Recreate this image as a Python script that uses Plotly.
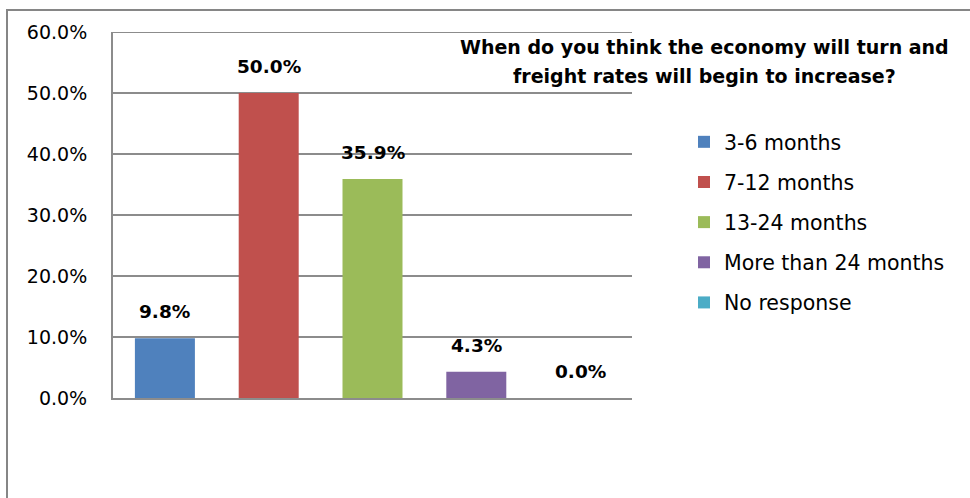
import plotly.graph_objects as go

# Survey answers and their shares
categories = ["3-6 months", "7-12 months", "13-24 months", "More than 24 months", "No response"]
shares = [0.098, 0.500, 0.359, 0.043, 0.000]
colors = ["#4F81BD", "#C0504D", "#9BBB59", "#8064A2", "#4BACC6"]
y_ticks = [0.0, 0.1, 0.2, 0.3, 0.4, 0.5, 0.6]
title_lines = ["When do you think the economy will turn and",
               "freight rates will begin to increase?"]

W, H = 970, 498
L, R, T, B = 113, 338, 32, 100
plot_w = W - L - R
plot_h = H - T - B


def px_x(x):
    return (x - L) / plot_w


def px_y(y):
    return (H - B - y) / plot_h


GRID = "#8c8c8c"
FONT = "DejaVu Sans"

fig = go.Figure()
for i, (cat, val, col) in enumerate(zip(categories, shares, colors)):
    fig.add_trace(go.Bar(
        x=[cat], y=[val], name=cat,
        marker=dict(color=col, line=dict(width=0)),
        width=0.578,
        legendgroup=f"g{i}",
        hoverinfo="skip",
    ))
    fig.add_annotation(
        x=cat, y=val, xref="x", yref="y",
        text=f"<b>{val * 100:.1f}%</b>",
        showarrow=False, yanchor="bottom", yshift=14,
        font=dict(family=FONT, size=18.5, color="#000000"),
    )

for k, line in enumerate(title_lines):
    fig.add_annotation(
        x=px_x(704), y=px_y(46.5 + 30 * k), xref="paper", yref="paper",
        text=f"<b>{line}</b>", showarrow=False,
        xanchor="center", yanchor="middle",
        font=dict(family=FONT, size=19, color="#000000"),
    )

# Top gridline sits on the range edge, so draw it explicitly
fig.add_shape(
    type="line", xref="paper", yref="y",
    x0=0, x1=1, y0=y_ticks[-1], y1=y_ticks[-1],
    line=dict(color=GRID, width=2), layer="below",
)

# Outer chart frame
fig.add_shape(
    type="rect", xref="paper", yref="paper",
    x0=px_x(7), x1=px_x(990), y0=px_y(530), y1=px_y(10),
    line=dict(color="#868686", width=2), fillcolor="rgba(0,0,0,0)",
    layer="below",
)

fig.update_layout(
    width=W, height=H,
    margin=dict(l=L, r=R, t=T, b=B, pad=0),
    paper_bgcolor="white", plot_bgcolor="white",
    barmode="overlay",
    showlegend=True,
    legend=dict(
        x=px_x(684), y=px_y(122), xanchor="left", yanchor="top",
        font=dict(family=FONT, size=20.5, color="#000000"),
        tracegroupgap=10.5, bgcolor="rgba(0,0,0,0)",
        itemclick=False, itemdoubleclick=False,
    ),
    xaxis=dict(
        type="category", categoryorder="array", categoryarray=categories,
        range=[-0.5, len(categories) - 0.5],
        showticklabels=False, ticks="", showgrid=False, zeroline=False,
        showline=True, linecolor=GRID, linewidth=2,
    ),
    yaxis=dict(
        range=[0, 0.6], tickvals=y_ticks, tickformat=".1%",
        showgrid=True, gridcolor=GRID, gridwidth=2,
        zeroline=False, showline=True, linecolor=GRID, linewidth=2,
        ticks="", ticklabelstandoff=20,
        tickfont=dict(family=FONT, size=19, color="#000000"),
    ),
)

fig.write_html("out.html")
